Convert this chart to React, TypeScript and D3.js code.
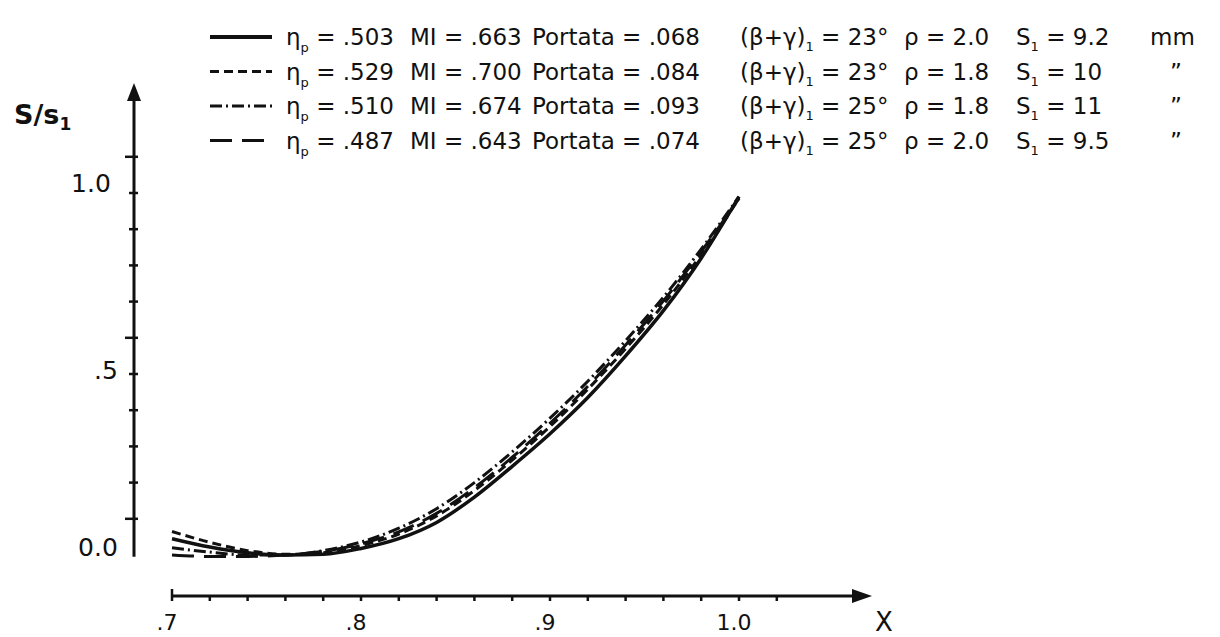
import * as d3 from "d3";

// X = position along the blade, S/S1 = normalised value
const xValues = [0.7, 0.72, 0.74, 0.76, 0.78, 0.8, 0.82, 0.84, 0.86, 0.88, 0.9, 0.92, 0.94, 0.96, 0.98, 1.0];

const seriesSolid = [0.045, 0.022, 0.006, 0.0, 0.002, 0.018, 0.045, 0.09, 0.16, 0.245, 0.335, 0.435, 0.55, 0.675, 0.82, 0.99];
const seriesDashed = [0.065, 0.035, 0.012, 0.002, 0.006, 0.026, 0.058, 0.108, 0.178, 0.262, 0.355, 0.458, 0.57, 0.692, 0.83, 0.985];
const seriesDashDot = [0.02, 0.008, 0.0, 0.0, 0.012, 0.036, 0.074, 0.128, 0.2, 0.285, 0.378, 0.48, 0.592, 0.712, 0.845, 0.99];
const seriesLongDash = [0.0, -0.004, -0.004, 0.0, 0.01, 0.031, 0.064, 0.115, 0.186, 0.27, 0.364, 0.466, 0.58, 0.702, 0.838, 0.985];

// legend texts
const etaValues = [".503", ".529", ".510", ".487"];
const miValues = [".663", ".700", ".674", ".643"];
const portataValues = [".068", ".084", ".093", ".074"];
const angleValues = ["23°", "23°", "25°", "25°"];
const rhoValues = ["2.0", "1.8", "1.8", "2.0"];
const s1Values = ["9.2", "10", "11", "9.5"];
const s1Units = ["mm", "\u201D", "\u201D", "\u201D"];

const xTickLabels = [".7", ".8", ".9", "1.0"];
const yTickLabels = ["0.0", ".5", "1.0"];

const series = [seriesSolid, seriesDashed, seriesDashDot, seriesLongDash];
const dashes = ["", "9,5", "12,4,2,4", "22,10"];

export default function App() {
  const width = 1220;
  const height = 637;
  const font = "'DejaVu Sans', sans-serif";

  const x = d3.scaleLinear().domain([0.7, 1.0]).range([172, 739]);
  const y = d3.scaleLinear().domain([0, 1]).range([555, 193]);

  const line = d3
    .line<number>()
    .x((d, i) => x(xValues[i]))
    .y((d) => y(d))
    .curve(d3.curveMonotoneX);

  const xAxisY = 596;
  const yAxisX = 134;
  const xMinor = d3.range(0, 17).map((i) => 0.7 + i * 0.02);
  const yMinor = d3.range(1, 12).map((i) => i / 10);

  const rowY = (i: number) => 37 + i * 34.5;

  return (
    <svg
      width={width}
      height={height}
      style={{ position: "absolute", left: 0, top: 0, background: "#fff" }}
      fontFamily={font}
    >
      {/* y axis */}
      <line x1={yAxisX} x2={yAxisX} y1={y(-0.005)} y2={95} stroke="#111" strokeWidth={3} />
      <path d={`M${yAxisX},83 L${yAxisX - 7},101 L${yAxisX + 7},101 Z`} fill="#111" />
      {yMinor.map((v, i) => (
        <line
          key={"yt" + i}
          x1={yAxisX - (i % 5 === 0 ? 9 : 5)}
          x2={yAxisX + 4}
          y1={y(v)}
          y2={y(v)}
          stroke="#111"
          strokeWidth={2.5}
        />
      ))}
      {yTickLabels.map((t, i) => (
        <text
          key={"yl" + t}
          x={[98, 106, 91][i]}
          y={y(i * 0.5) + [-8, -4, -10][i]}
          fontSize={25}
          textAnchor="middle"
          dominantBaseline="central"
          fill="#111"
        >
          {t}
        </text>
      ))}
      <text x={14} y={124} fontSize={27} fill="#111" fontWeight="bold">
        S/s<tspan fontSize={17} dy={6}>1</tspan>
      </text>

      {/* x axis */}
      <line x1={x(0.7)} x2={860} y1={xAxisY} y2={xAxisY} stroke="#111" strokeWidth={3} />
      <path d={`M872,${xAxisY} L852,${xAxisY - 7} L852,${xAxisY + 7} Z`} fill="#111" />
      {xMinor.map((v, i) => (
        <line
          key={"xt" + i}
          x1={x(v)}
          x2={x(v)}
          y1={xAxisY - (i === 0 ? 7 : 1)}
          y2={xAxisY + 5}
          stroke="#111"
          strokeWidth={2.5}
        />
      ))}
      {xTickLabels.map((t, i) => (
        <text
          key={"xl" + t}
          x={x(0.7 + i * 0.1) - 5}
          y={630}
          fontSize={22}
          textAnchor="middle"
          fill="#111"
        >
          {t}
        </text>
      ))}
      <text x={884} y={631} fontSize={26} textAnchor="middle" fill="#111">
        X
      </text>

      {/* curves */}
      {series.map((s, i) => (
        <path
          key={"s" + i}
          d={line(s) || ""}
          fill="none"
          stroke="#111"
          strokeWidth={i === 0 ? 3.5 : 3}
          strokeDasharray={dashes[i]}
        />
      ))}

      {/* legend */}
      {etaValues.map((eta, i) => {
        const yy = rowY(i);
        const base = yy + 8;
        return (
          <g key={"lg" + i} fill="#111" fontSize={23}>
            <line
              x1={210}
              x2={272}
              y1={yy}
              y2={yy}
              stroke="#111"
              strokeWidth={i === 0 ? 4 : 3}
              strokeDasharray={dashes[i]}
            />
            <text x={286} y={base}>
              η<tspan fontSize={13} dy={7}>p</tspan>
              <tspan dy={-7}> = {eta}</tspan>
            </text>
            <text x={410} y={base}>MI = {miValues[i]}</text>
            <text x={532} y={base}>Portata = {portataValues[i]}</text>
            <text x={740} y={base}>
              (β+γ)<tspan fontSize={13} dy={6}>1</tspan>
              <tspan dy={-6}> = {angleValues[i]}</tspan>
            </text>
            <text x={904} y={base}>ρ = {rhoValues[i]}</text>
            <text x={1016} y={base}>
              S<tspan fontSize={13} dy={6}>1</tspan>
              <tspan dy={-6}> = {s1Values[i]}</tspan>
            </text>
            <text x={i === 0 ? 1150 : 1170} y={base}>{s1Units[i]}</text>
          </g>
        );
      })}
    </svg>
  );
}
